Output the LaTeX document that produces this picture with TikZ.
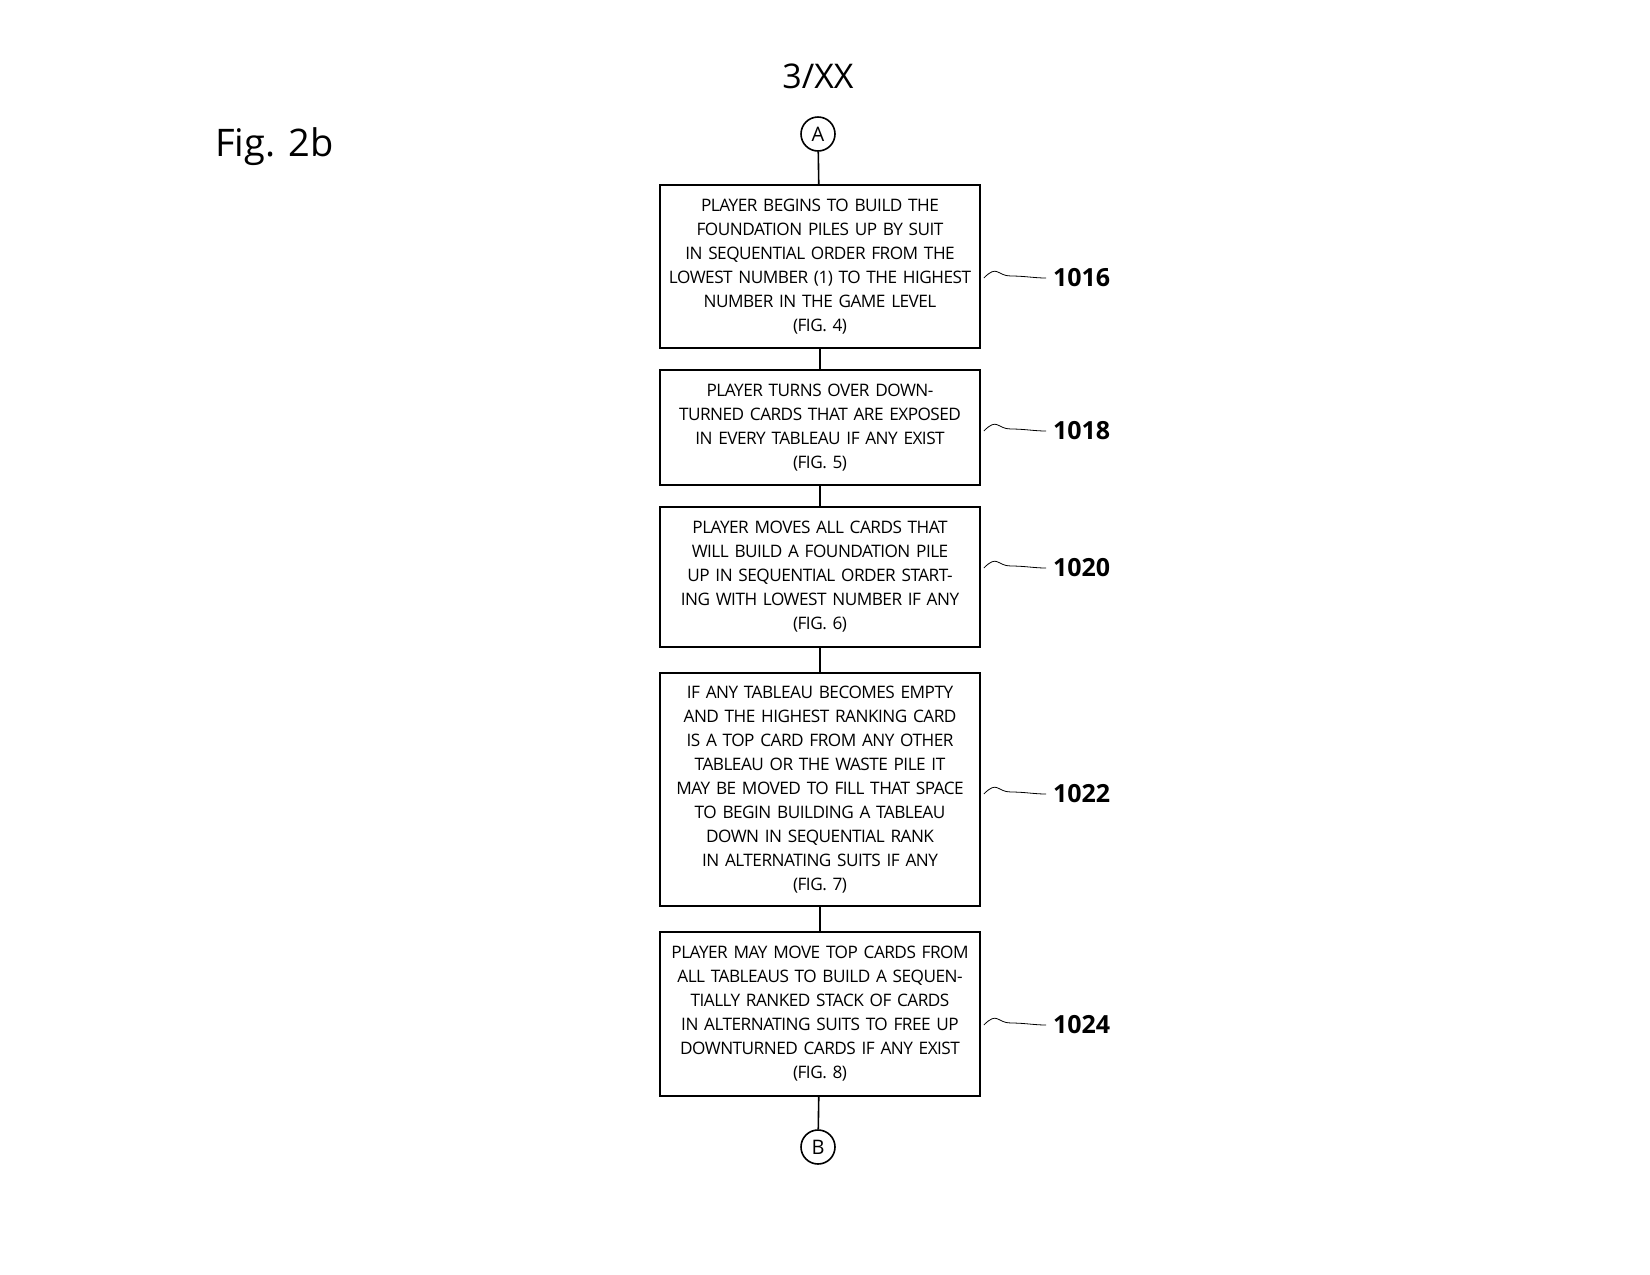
\documentclass[tikz,border=0pt]{standalone}
\usepackage{fontspec}
\setmainfont{Open Sans}
\usetikzlibrary{positioning}
\tikzset{
  stepbox/.style={draw, thick, text width=158pt, align=center, inner sep=1pt,
    font=\fontsize{8.6}{12}\selectfont\addfontfeatures{LetterSpace=-3}},
  conn/.style={draw, thick, circle, minimum size=17pt, inner sep=0pt, font=\fontsize{10}{12}\selectfont},
  tag/.style={font=\fontsize{12.5}{14}\selectfont\bfseries, anchor=west},
  wave/.style={thin}
}
\begin{document}
\begin{tikzpicture}[x=0.5pt,y=-0.5pt]
\useasboundingbox (0,0) rectangle (1650,1275);
% Titles
\node[font=\fontsize{17}{20}\selectfont] (sheet) at (818,76) {3/XX};
\node[font=\fontsize{19}{22}\selectfont, anchor=west] (fig) at (208,147) {Fig. 2b};

% Connectors
\node[conn] (A) at (818,134) {A};
\node[conn] (B) at (818,1147) {B};

% Steps
\node[stepbox, minimum height=81.5pt] (s1016) at (820,266.5) {PLAYER BEGINS TO BUILD THE\\FOUNDATION PILES UP BY SUIT\\IN SEQUENTIAL ORDER FROM THE\\LOWEST NUMBER (1) TO THE HIGHEST\\NUMBER IN THE GAME LEVEL\\(FIG. 4)};
\node[stepbox, minimum height=57.5pt] (s1018) at (820,427.5) {PLAYER TURNS OVER DOWN-\\TURNED CARDS THAT ARE EXPOSED\\IN EVERY TABLEAU IF ANY EXIST\\(FIG. 5)};
\node[stepbox, minimum height=70pt] (s1020) at (820,577) {PLAYER MOVES ALL CARDS THAT\\WILL BUILD A FOUNDATION PILE\\UP IN SEQUENTIAL ORDER START-\\ING WITH LOWEST NUMBER IF ANY\\(FIG. 6)};
\node[stepbox, minimum height=116.5pt] (s1022) at (820,789.5) {IF ANY TABLEAU BECOMES EMPTY\\AND THE HIGHEST RANKING CARD\\IS A TOP CARD FROM ANY OTHER\\TABLEAU OR THE WASTE PILE IT\\MAY BE MOVED TO FILL THAT SPACE\\TO BEGIN BUILDING A TABLEAU\\DOWN IN SEQUENTIAL RANK\\IN ALTERNATING SUITS IF ANY\\(FIG. 7)};
\node[stepbox, minimum height=82pt] (s1024) at (820,1014) {PLAYER MAY MOVE TOP CARDS FROM\\ALL TABLEAUS TO BUILD A SEQUEN-\\TIALLY RANKED STACK OF CARDS\\IN ALTERNATING SUITS TO FREE UP\\DOWNTURNED CARDS IF ANY EXIST\\(FIG. 8)};

% Flow lines
\draw[thick] (A) -- (s1016);
\draw[thick] (s1016) -- (s1018);
\draw[thick] (s1018) -- (s1020);
\draw[thick] (s1020) -- (s1022);
\draw[thick] (s1022) -- (s1024);
\draw[thick] (s1024) -- (B);

% Reference numerals
\foreach \s/\y in {1016/278,1018/431,1020/568,1022/794,1024/1025}{
  \node[tag] (t\s) at (1046,\y) {\s};
  \draw[wave] ([xshift=1.5pt]t\s.west -| s\s.east) .. controls +(14,-14) and +(-14,0) .. ++(27,-2)
    .. controls +(14,0) and +(-12,0) .. (t\s.west);
}
\end{tikzpicture}
\end{document}
